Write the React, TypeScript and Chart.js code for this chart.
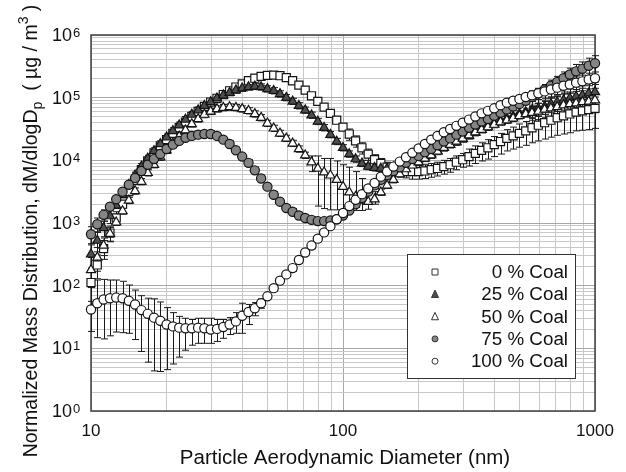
import React, { useEffect, useRef } from "react";
import { Chart, registerables } from "chart.js";

Chart.register(...registerables);

const FONT = '"Liberation Sans", Arial, Helvetica, sans-serif';

// Particle aerodynamic diameter (nm)
const diameters = [
  10.0, 10.59, 11.22, 11.89, 12.59, 13.34, 14.13, 14.96, 15.85, 16.79,
  17.78, 18.84, 19.95, 21.13, 22.39, 23.71, 25.12, 26.61, 28.18, 29.85,
  31.62, 33.5, 35.48, 37.58, 39.81, 42.17, 44.67, 47.32, 50.12, 53.09,
  56.23, 59.57, 63.1, 66.83, 70.79, 74.99, 79.43, 84.14, 89.13, 94.41,
  100.0, 105.9, 112.2, 118.9, 125.9, 133.4, 141.3, 149.6, 158.5, 167.9,
  177.8, 188.4, 199.5, 211.3, 223.9, 237.1, 251.2, 266.1, 281.8, 298.5,
  316.2, 335.0, 354.8, 375.8, 398.1, 421.7, 446.7, 473.2, 501.2, 530.9,
  562.3, 595.7, 631.0, 668.3, 707.9, 749.9, 794.3, 841.4, 891.3, 944.1,
  1000.0,
];

const seriesLabels = ["0 % Coal", "25 % Coal", "50 % Coal", "75 % Coal", "100 % Coal"];
const xTickLabels = [10, 100, 1000];
const yTickExponents = [0, 1, 2, 3, 4, 5, 6];

// log10 of dM/dlogDp (ug/m3)
const coal0Log = [
  2.05, 2.33, 2.59, 2.84, 3.08, 3.3, 3.5, 3.68, 3.85, 3.99,
  4.12, 4.23, 4.33, 4.43, 4.52, 4.61, 4.7, 4.78, 4.86, 4.93,
  4.99, 5.05, 5.11, 5.17, 5.22, 5.27, 5.31, 5.34, 5.355, 5.36,
  5.35, 5.32, 5.27, 5.2, 5.12, 5.03, 4.94, 4.85, 4.75, 4.64,
  4.53, 4.42, 4.31, 4.2, 4.1, 4.01, 3.95, 3.89, 3.86, 3.84,
  3.82, 3.82, 3.82, 3.83, 3.85, 3.87, 3.9, 3.93, 3.97, 4.01,
  4.06, 4.11, 4.16, 4.2, 4.25, 4.3, 4.35, 4.39, 4.43, 4.47,
  4.52, 4.56, 4.6, 4.64, 4.68, 4.71, 4.74, 4.77, 4.79, 4.81,
  4.83,
];
const coal25Log = [
  2.5, 2.72, 2.92, 3.11, 3.28, 3.45, 3.61, 3.76, 3.9, 4.03,
  4.15, 4.26, 4.37, 4.47, 4.56, 4.65, 4.73, 4.8, 4.87, 4.93,
  4.99, 5.04, 5.08, 5.12, 5.15, 5.17, 5.18, 5.17, 5.14, 5.11,
  5.06, 5.0, 4.94, 4.87, 4.8, 4.72, 4.62, 4.52, 4.41, 4.3,
  4.2, 4.1, 4.02, 3.95, 3.9, 3.88, 3.87, 3.87, 3.89, 3.92,
  3.95, 3.98, 4.02, 4.06, 4.1, 4.15, 4.2, 4.25, 4.29, 4.34,
  4.39, 4.44, 4.49, 4.53, 4.58, 4.62, 4.66, 4.7, 4.74, 4.77,
  4.8, 4.83, 4.86, 4.9, 4.93, 4.96, 4.99, 5.02, 5.04, 5.07,
  5.09,
];
const coal50Log = [
  2.25, 2.45, 2.64, 2.83, 3.01, 3.19, 3.36, 3.51, 3.66, 3.8,
  3.93, 4.05, 4.16, 4.27, 4.38, 4.48, 4.58, 4.66, 4.73, 4.78,
  4.82, 4.84, 4.85, 4.84, 4.82, 4.79, 4.74, 4.68, 4.59, 4.51,
  4.43, 4.35, 4.27, 4.18, 4.08, 3.97, 3.87, 3.81, 3.76, 3.69,
  3.58, 3.49, 3.42, 3.36, 3.34, 3.38, 3.49, 3.6, 3.69, 3.78,
  3.86, 3.92, 3.97, 4.03, 4.08, 4.14, 4.2, 4.25, 4.3, 4.35,
  4.4, 4.45, 4.49, 4.53, 4.57, 4.61, 4.64, 4.67, 4.71, 4.74,
  4.76, 4.78, 4.81, 4.83, 4.85, 4.88, 4.9, 4.91, 4.93, 4.94,
  4.96,
];
const coal75Log = [
  2.82, 2.98, 3.13, 3.26, 3.38, 3.5, 3.61, 3.72, 3.83, 3.93,
  4.02, 4.1, 4.18, 4.25, 4.31, 4.36, 4.39, 4.41, 4.42, 4.42,
  4.39, 4.33, 4.26, 4.16, 4.06, 3.96, 3.84, 3.71, 3.58, 3.45,
  3.34, 3.24, 3.18, 3.12, 3.08, 3.05, 3.03, 3.03, 3.04, 3.06,
  3.12, 3.2, 3.3, 3.4, 3.5, 3.6, 3.69, 3.76, 3.83, 3.89,
  3.96, 4.02, 4.07, 4.13, 4.18, 4.24, 4.3, 4.35, 4.41, 4.46,
  4.52, 4.57, 4.62, 4.66, 4.71, 4.76, 4.81, 4.86, 4.9, 4.95,
  5.01, 5.07, 5.13, 5.19, 5.25, 5.31, 5.37, 5.42, 5.46, 5.51,
  5.55,
];
const coal100Log = [
  1.62, 1.72, 1.78, 1.8, 1.81, 1.8, 1.76, 1.7, 1.61, 1.55,
  1.49, 1.44, 1.38, 1.35, 1.33, 1.32, 1.32, 1.33, 1.32, 1.3,
  1.31, 1.34, 1.38, 1.43, 1.52, 1.58, 1.64, 1.72, 1.83, 1.96,
  2.08, 2.18, 2.28, 2.41, 2.53, 2.64, 2.75, 2.85, 2.95, 3.06,
  3.16, 3.27, 3.37, 3.46, 3.55, 3.64, 3.74, 3.82, 3.9, 3.98,
  4.05, 4.12, 4.19, 4.26, 4.33, 4.39, 4.45, 4.5, 4.55, 4.6,
  4.65, 4.7, 4.75, 4.79, 4.83, 4.88, 4.92, 4.95, 4.98, 5.01,
  5.04, 5.07, 5.1, 5.13, 5.16, 5.19, 5.21, 5.24, 5.26, 5.29,
  5.31,
];

// Error bar extents, in decades above / below each point
const coal0ErrUp = [
  0.2, 0.16, 0.13, 0.11, 0.1, 0.05, 0.05, 0.05, 0.05, 0.05,
  0.05, 0.05, 0.05, 0.05, 0.05, 0.05, 0.05, 0.05, 0.05, 0.05,
  0.05, 0.05, 0.05, 0.05, 0.05, 0.05, 0.05, 0.05, 0.05, 0.05,
  0.05, 0.05, 0.05, 0.05, 0.05, 0.05, 0.05, 0.05, 0.05, 0.05,
  0.05, 0.08, 0.08, 0.08, 0.08, 0.08, 0.08, 0.08, 0.08, 0.08,
  0.08, 0.1, 0.1, 0.1, 0.1, 0.1, 0.1, 0.1, 0.1, 0.1,
  0.12, 0.12, 0.12, 0.13, 0.13, 0.13, 0.14, 0.14, 0.15, 0.15,
  0.15, 0.16, 0.16, 0.17, 0.17, 0.17, 0.18, 0.18, 0.18, 0.18,
  0.18,
];
const coal0ErrDn = [
  0.3, 0.22, 0.17, 0.14, 0.12, 0.05, 0.05, 0.05, 0.05, 0.05,
  0.05, 0.05, 0.05, 0.05, 0.05, 0.05, 0.05, 0.05, 0.05, 0.05,
  0.05, 0.05, 0.05, 0.05, 0.05, 0.05, 0.05, 0.05, 0.05, 0.05,
  0.05, 0.05, 0.05, 0.05, 0.05, 0.05, 0.05, 0.05, 0.05, 0.05,
  0.05, 0.1, 0.1, 0.1, 0.1, 0.1, 0.1, 0.1, 0.1, 0.1,
  0.1, 0.12, 0.12, 0.12, 0.12, 0.12, 0.12, 0.12, 0.12, 0.12,
  0.15, 0.16, 0.17, 0.18, 0.19, 0.2, 0.2, 0.21, 0.22, 0.23,
  0.24, 0.25, 0.26, 0.27, 0.28, 0.29, 0.3, 0.3, 0.31, 0.32,
  0.32,
];
const coal25ErrUp = [
  0.15, 0.13, 0.11, 0.1, 0.05, 0.05, 0.05, 0.05, 0.05, 0.05,
  0.05, 0.05, 0.05, 0.05, 0.05, 0.05, 0.05, 0.05, 0.05, 0.05,
  0.05, 0.05, 0.05, 0.05, 0.05, 0.05, 0.05, 0.05, 0.05, 0.05,
  0.05, 0.05, 0.05, 0.05, 0.05, 0.05, 0.05, 0.05, 0.05, 0.05,
  0.05, 0.05, 0.05, 0.05, 0.05, 0.05, 0.05, 0.05, 0.05, 0.05,
  0.05, 0.05, 0.05, 0.05, 0.05, 0.05, 0.05, 0.05, 0.05, 0.05,
  0.05, 0.05, 0.05, 0.05, 0.05, 0.05, 0.05, 0.05, 0.05, 0.05,
  0.08, 0.08, 0.08, 0.09, 0.09, 0.1, 0.1, 0.11, 0.11, 0.12,
  0.12,
];
const coal25ErrDn = [
  0.22, 0.18, 0.14, 0.12, 0.05, 0.05, 0.05, 0.05, 0.05, 0.05,
  0.05, 0.05, 0.05, 0.05, 0.05, 0.05, 0.05, 0.05, 0.05, 0.05,
  0.05, 0.05, 0.05, 0.05, 0.05, 0.05, 0.05, 0.05, 0.05, 0.05,
  0.05, 0.05, 0.05, 0.05, 0.05, 0.05, 0.05, 0.05, 0.05, 0.05,
  0.05, 0.05, 0.05, 0.05, 0.05, 0.05, 0.05, 0.05, 0.05, 0.05,
  0.05, 0.05, 0.05, 0.05, 0.05, 0.05, 0.05, 0.05, 0.05, 0.05,
  0.05, 0.05, 0.05, 0.05, 0.05, 0.05, 0.05, 0.05, 0.05, 0.05,
  0.12, 0.13, 0.13, 0.14, 0.15, 0.16, 0.17, 0.18, 0.18, 0.19,
  0.2,
];
const coal50ErrUp = [
  0.2, 0.16, 0.12, 0.1, 0.05, 0.05, 0.05, 0.05, 0.05, 0.05,
  0.05, 0.05, 0.05, 0.05, 0.05, 0.05, 0.05, 0.05, 0.05, 0.05,
  0.05, 0.05, 0.05, 0.05, 0.05, 0.05, 0.05, 0.05, 0.05, 0.05,
  0.05, 0.05, 0.05, 0.05, 0.05, 0.1, 0.2, 0.22, 0.27, 0.3,
  0.35, 0.4, 0.4, 0.35, 0.25, 0.12, 0.05, 0.05, 0.05, 0.05,
  0.05, 0.05, 0.05, 0.05, 0.05, 0.05, 0.05, 0.05, 0.05, 0.05,
  0.05, 0.05, 0.05, 0.05, 0.05, 0.05, 0.05, 0.05, 0.05, 0.05,
  0.08, 0.08, 0.08, 0.09, 0.09, 0.1, 0.1, 0.11, 0.11, 0.12,
  0.12,
];
const coal50ErrDn = [
  0.28, 0.22, 0.16, 0.12, 0.05, 0.05, 0.05, 0.05, 0.05, 0.05,
  0.05, 0.05, 0.05, 0.05, 0.05, 0.05, 0.05, 0.05, 0.05, 0.05,
  0.05, 0.05, 0.05, 0.05, 0.05, 0.05, 0.05, 0.05, 0.05, 0.05,
  0.05, 0.05, 0.05, 0.05, 0.05, 0.15, 0.6, 0.58, 0.55, 0.48,
  0.4, 0.3, 0.22, 0.16, 0.12, 0.08, 0.05, 0.05, 0.05, 0.05,
  0.05, 0.05, 0.05, 0.05, 0.05, 0.05, 0.05, 0.05, 0.05, 0.05,
  0.05, 0.05, 0.05, 0.05, 0.05, 0.05, 0.05, 0.05, 0.05, 0.05,
  0.12, 0.13, 0.13, 0.14, 0.15, 0.16, 0.17, 0.18, 0.18, 0.19,
  0.2,
];
const coal75ErrUp = [
  0.12, 0.1, 0.08, 0.05, 0.05, 0.05, 0.05, 0.05, 0.05, 0.05,
  0.05, 0.05, 0.05, 0.05, 0.05, 0.05, 0.05, 0.05, 0.05, 0.05,
  0.05, 0.05, 0.05, 0.05, 0.05, 0.05, 0.05, 0.05, 0.05, 0.05,
  0.05, 0.05, 0.05, 0.05, 0.05, 0.05, 0.05, 0.05, 0.05, 0.05,
  0.05, 0.05, 0.05, 0.05, 0.05, 0.05, 0.05, 0.05, 0.05, 0.05,
  0.05, 0.05, 0.05, 0.05, 0.05, 0.05, 0.05, 0.05, 0.05, 0.05,
  0.05, 0.05, 0.05, 0.05, 0.05, 0.05, 0.05, 0.05, 0.05, 0.05,
  0.08, 0.08, 0.08, 0.09, 0.09, 0.1, 0.1, 0.11, 0.11, 0.12,
  0.12,
];
const coal75ErrDn = [
  0.15, 0.12, 0.1, 0.05, 0.05, 0.05, 0.05, 0.05, 0.05, 0.05,
  0.05, 0.05, 0.05, 0.05, 0.05, 0.05, 0.05, 0.05, 0.05, 0.05,
  0.05, 0.05, 0.05, 0.05, 0.05, 0.05, 0.05, 0.05, 0.05, 0.05,
  0.05, 0.05, 0.05, 0.05, 0.05, 0.05, 0.05, 0.05, 0.05, 0.05,
  0.05, 0.05, 0.05, 0.05, 0.05, 0.05, 0.05, 0.05, 0.05, 0.05,
  0.05, 0.05, 0.05, 0.05, 0.05, 0.05, 0.05, 0.05, 0.05, 0.05,
  0.05, 0.05, 0.05, 0.05, 0.05, 0.05, 0.05, 0.05, 0.05, 0.05,
  0.15, 0.16, 0.17, 0.18, 0.2, 0.22, 0.23, 0.25, 0.27, 0.28,
  0.3,
];
const coal100ErrUp = [
  0.45, 0.37, 0.32, 0.29, 0.28, 0.27, 0.25, 0.23, 0.23, 0.25,
  0.3, 0.3, 0.27, 0.22, 0.18, 0.16, 0.14, 0.15, 0.16, 0.18,
  0.15, 0.12, 0.11, 0.14, 0.2, 0.12, 0.09, 0.07, 0.05, 0.05,
  0.05, 0.05, 0.05, 0.05, 0.05, 0.05, 0.05, 0.05, 0.05, 0.05,
  0.05, 0.05, 0.05, 0.05, 0.05, 0.05, 0.05, 0.05, 0.05, 0.05,
  0.05, 0.05, 0.05, 0.05, 0.05, 0.05, 0.05, 0.05, 0.05, 0.05,
  0.05, 0.05, 0.05, 0.05, 0.05, 0.05, 0.05, 0.05, 0.05, 0.05,
  0.07, 0.07, 0.07, 0.08, 0.08, 0.09, 0.09, 0.09, 0.1, 0.1,
  0.1,
];
const coal100ErrDn = [
  0.35, 0.55, 0.63, 0.6, 0.55, 0.55, 0.52, 0.56, 0.66, 0.77,
  0.85, 0.81, 0.72, 0.6, 0.47, 0.35, 0.27, 0.25, 0.24, 0.22,
  0.2, 0.18, 0.16, 0.19, 0.28, 0.2, 0.12, 0.08, 0.05, 0.05,
  0.05, 0.05, 0.05, 0.05, 0.05, 0.05, 0.05, 0.05, 0.05, 0.05,
  0.05, 0.05, 0.05, 0.05, 0.05, 0.05, 0.05, 0.05, 0.05, 0.05,
  0.05, 0.05, 0.05, 0.05, 0.05, 0.05, 0.05, 0.05, 0.05, 0.05,
  0.05, 0.05, 0.05, 0.05, 0.05, 0.05, 0.05, 0.05, 0.05, 0.05,
  0.1, 0.1, 0.11, 0.12, 0.12, 0.13, 0.14, 0.14, 0.15, 0.15,
  0.16,
];

type SeriesDef = {
  label: string;
  logs: number[];
  up: number[];
  dn: number[];
  shape: "rect" | "triangle" | "circle";
  fill: string;
  radius: number;
  order: number;
};

const series: SeriesDef[] = [
  { label: seriesLabels[0], logs: coal0Log, up: coal0ErrUp, dn: coal0ErrDn, shape: "rect", fill: "#ffffff", radius: 5.7, order: 5 },
  { label: seriesLabels[1], logs: coal25Log, up: coal25ErrUp, dn: coal25ErrDn, shape: "triangle", fill: "#4f4f4f", radius: 5.3, order: 4 },
  { label: seriesLabels[2], logs: coal50Log, up: coal50ErrUp, dn: coal50ErrDn, shape: "triangle", fill: "#ffffff", radius: 5.3, order: 3 },
  { label: seriesLabels[3], logs: coal75Log, up: coal75ErrUp, dn: coal75ErrDn, shape: "circle", fill: "#858585", radius: 4.6, order: 2 },
  { label: seriesLabels[4], logs: coal100Log, up: coal100ErrUp, dn: coal100ErrDn, shape: "circle", fill: "#ffffff", radius: 4.6, order: 1 },
];

function logTicks(minExp: number, maxExp: number) {
  const t: { value: number; major: boolean }[] = [];
  for (let e = minExp; e < maxExp; e++) {
    for (let m = 1; m <= 9; m++) t.push({ value: m * Math.pow(10, e), major: m === 1 });
  }
  t.push({ value: Math.pow(10, maxExp), major: true });
  return t;
}

const gridColor = (ctx: any) => (ctx.tick && ctx.tick.major ? "#a8a8a8" : "#c8c8c8");

const errorBarPlugin = {
  id: "errorBars",
  beforeDatasetsDraw(chart: any) {
    const { ctx, chartArea } = chart;
    const xs = chart.scales.x;
    const ys = chart.scales.y;
    ctx.save();
    ctx.strokeStyle = "#404040";
    ctx.lineWidth = 1.5;
    ctx.strokeRect(chartArea.left, chartArea.top, chartArea.right - chartArea.left, chartArea.bottom - chartArea.top);
    ctx.strokeStyle = "#1a1a1a";
    ctx.lineWidth = 1;
    series.forEach((s) => {
      s.logs.forEach((lv, i) => {
        const px = Math.round(xs.getPixelForValue(diameters[i])) + 0.5;
        const yt = ys.getPixelForValue(Math.pow(10, lv + s.up[i]));
        const yb = ys.getPixelForValue(Math.pow(10, lv - s.dn[i]));
        ctx.beginPath();
        ctx.moveTo(px, yt);
        ctx.lineTo(px, yb);
        ctx.moveTo(px - 3.5, yt);
        ctx.lineTo(px + 3.5, yt);
        ctx.moveTo(px - 3.5, yb);
        ctx.lineTo(px + 3.5, yb);
        ctx.stroke();
      });
    });
    ctx.restore();
  },
};

function drawMarker(ctx: CanvasRenderingContext2D, shape: string, x: number, y: number, size: number, fill: string) {
  ctx.beginPath();
  if (shape === "rect") {
    ctx.rect(x - size / 2, y - size / 2, size, size);
  } else if (shape === "triangle") {
    const h = size * 0.9;
    ctx.moveTo(x, y - h / 2 - 1);
    ctx.lineTo(x + size / 2, y + h / 2);
    ctx.lineTo(x - size / 2, y + h / 2);
    ctx.closePath();
  } else {
    ctx.arc(x, y, size / 2, 0, Math.PI * 2);
  }
  ctx.fillStyle = fill;
  ctx.fill();
  ctx.strokeStyle = "#333";
  ctx.lineWidth = 1;
  ctx.stroke();
}

const decorPlugin = {
  id: "decor",
  afterDraw(chart: any) {
    const { ctx, chartArea } = chart;
    const xs = chart.scales.x;
    const ys = chart.scales.y;
    ctx.save();
    ctx.fillStyle = "#111";

    yTickExponents.forEach((e) => {
      const py = ys.getPixelForValue(Math.pow(10, e));
      ctx.font = `18px ${FONT}`;
      ctx.textAlign = "right";
      ctx.textBaseline = "middle";
      ctx.fillText("10", 72, py + 1);
      ctx.font = `13px ${FONT}`;
      ctx.textAlign = "left";
      ctx.textBaseline = "alphabetic";
      ctx.fillText(String(e), 73, py + 2);
    });

    ctx.font = `17px ${FONT}`;
    ctx.textAlign = "center";
    ctx.textBaseline = "middle";
    xTickLabels.forEach((v) => {
      ctx.fillText(String(v), xs.getPixelForValue(v), chartArea.bottom + 20);
    });

    ctx.font = `20.5px ${FONT}`;
    ctx.textBaseline = "alphabetic";
    ctx.fillText("Particle Aerodynamic Diameter (nm)", 345, 464);

    ctx.save();
    ctx.translate(37, 231);
    ctx.rotate(-Math.PI / 2);
    const big = `19.5px ${FONT}`;
    const small = `14px ${FONT}`;
    const parts = [
      { t: "Normalized Mass Distribution, dM/dlogD", f: big, dy: 0 },
      { t: "p", f: small, dy: 5 },
      { t: "  ( \u00b5g / m", f: big, dy: 0 },
      { t: "3", f: small, dy: -9 },
      { t: " )", f: big, dy: 0 },
    ];
    let total = 0;
    parts.forEach((p) => {
      ctx.font = p.f;
      total += ctx.measureText(p.t).width;
    });
    let cx = -total / 2;
    ctx.textAlign = "left";
    parts.forEach((p) => {
      ctx.font = p.f;
      ctx.fillText(p.t, cx, p.dy);
      cx += ctx.measureText(p.t).width;
    });
    ctx.restore();

    const lx = 407, ly = 254, lw = 168, lh = 124;
    ctx.fillStyle = "#fff";
    ctx.fillRect(lx, ly, lw, lh);
    ctx.strokeStyle = "#333";
    ctx.lineWidth = 1;
    ctx.strokeRect(lx + 0.5, ly + 0.5, lw, lh);
    series.forEach((s, i) => {
      const ry = 272 + i * 22.3;
      const msize = s.shape === "triangle" ? 7 : 6;
      drawMarker(ctx, s.shape, 435, ry, msize, s.fill);
      ctx.fillStyle = "#111";
      ctx.font = `18.8px ${FONT}`;
      ctx.textAlign = "right";
      ctx.textBaseline = "middle";
      ctx.fillText(s.label, 568, ry + 1);
    });
    ctx.restore();
  },
};

export default function App() {
  const canvasRef = useRef<HTMLCanvasElement | null>(null);

  useEffect(() => {
    const canvas = canvasRef.current;
    if (!canvas) return;
    const chart = new Chart(canvas, {
      type: "scatter",
      data: {
        datasets: series.map((s) => ({
          label: s.label,
          data: diameters.map((d, i) => ({ x: d, y: Math.pow(10, s.logs[i]) })),
          pointStyle: s.shape,
          pointRadius: s.radius,
          pointBackgroundColor: s.fill,
          pointBorderColor: "#141414",
          pointBorderWidth: 1.2,
          showLine: false,
          order: s.order,
          clip: false,
        })),
      },
      options: {
        responsive: false,
        animation: false,
        devicePixelRatio: 1,
        layout: { padding: { left: 91, right: 31, top: 35, bottom: 61 } },
        plugins: { legend: { display: false }, tooltip: { enabled: false } },
        scales: {
          x: {
            type: "logarithmic",
            min: 10,
            max: 1000,
            afterBuildTicks: (axis: any) => {
              axis.ticks = logTicks(1, 3);
            },
            ticks: { display: false },
            grid: { color: gridColor, drawTicks: false, lineWidth: 1 },
            border: { display: false },
          },
          y: {
            type: "logarithmic",
            min: 1,
            max: 1e6,
            afterBuildTicks: (axis: any) => {
              axis.ticks = logTicks(0, 6);
            },
            ticks: { display: false },
            grid: { color: gridColor, drawTicks: false, lineWidth: 1 },
            border: { display: false },
          },
        },
      },
      plugins: [errorBarPlugin, decorPlugin],
    } as any);
    return () => chart.destroy();
  }, []);

  return (
    <div style={{ position: "fixed", left: 0, top: 0, width: 626, height: 472, background: "#fff" }}>
      <canvas ref={canvasRef} width={626} height={472} style={{ display: "block", width: 626, height: 472 }} />
    </div>
  );
}
